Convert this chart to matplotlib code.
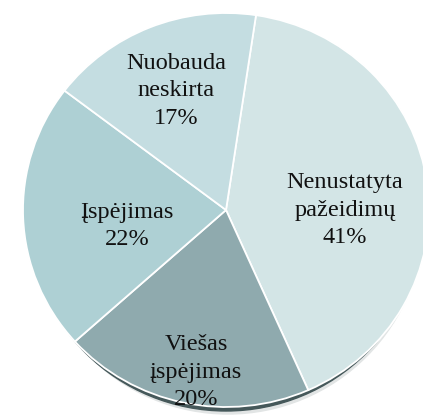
import matplotlib
matplotlib.use("Agg")
import matplotlib.pyplot as plt
from matplotlib.patches import Ellipse

# data
labels = ["Nenustatyta\npažeidimų", "Viešas\nįspėjimas", "Įspėjimas", "Nuobauda\nneskirta"]
values = [41, 20, 22, 17]
colors = ["#d3e5e6", "#8faaae", "#aed0d4", "#c4dde1"]

# label centres in pixels of the 423x419 picture (x right, y down)
label_px = [(345, 210), (196, 372), (127, 226), (176, 91)]

W, H = 423, 419
cx, cy = 226, 210          # pie centre, pixels
rx, ry = 203, 197          # horizontal / vertical radius, pixels
s = ry / rx

fig = plt.figure(figsize=(W / 100, H / 100), dpi=100)
ax = fig.add_axes([0, 0, 1, 1])

# soft shadow and dark rim under the pie
ax.add_patch(Ellipse((2, -7 / s), 2 * rx - 14, 2 * rx, color="#e2e5e5", zorder=0))
ax.add_patch(Ellipse((0, -4 / s), 2 * rx - 10, 2 * rx, color="#45585a", zorder=1))

wedges, _ = ax.pie(values, colors=colors, startangle=81.5, counterclock=False,
                   radius=rx, center=(0, 0),
                   wedgeprops={"edgecolor": "white", "linewidth": 1.3})
for w in wedges:
    w.set_zorder(2)

# pie() resets limits and aspect, so set them afterwards
ax.set_xlim(-cx, W - cx)
ax.set_ylim(-(H - cy) / s, cy / s)
ax.set_aspect("auto")
ax.axis("off")

for lab, v, (px, py) in zip(labels, values, label_px):
    ax.text(px / W, 1 - py / H, f"{lab}\n{v}%", transform=ax.transAxes,
            ha="center", va="center", fontsize=17.5, linespacing=1.4,
            family="Liberation Serif", color="#111111", zorder=5)

fig.savefig("out.png", dpi=100)
